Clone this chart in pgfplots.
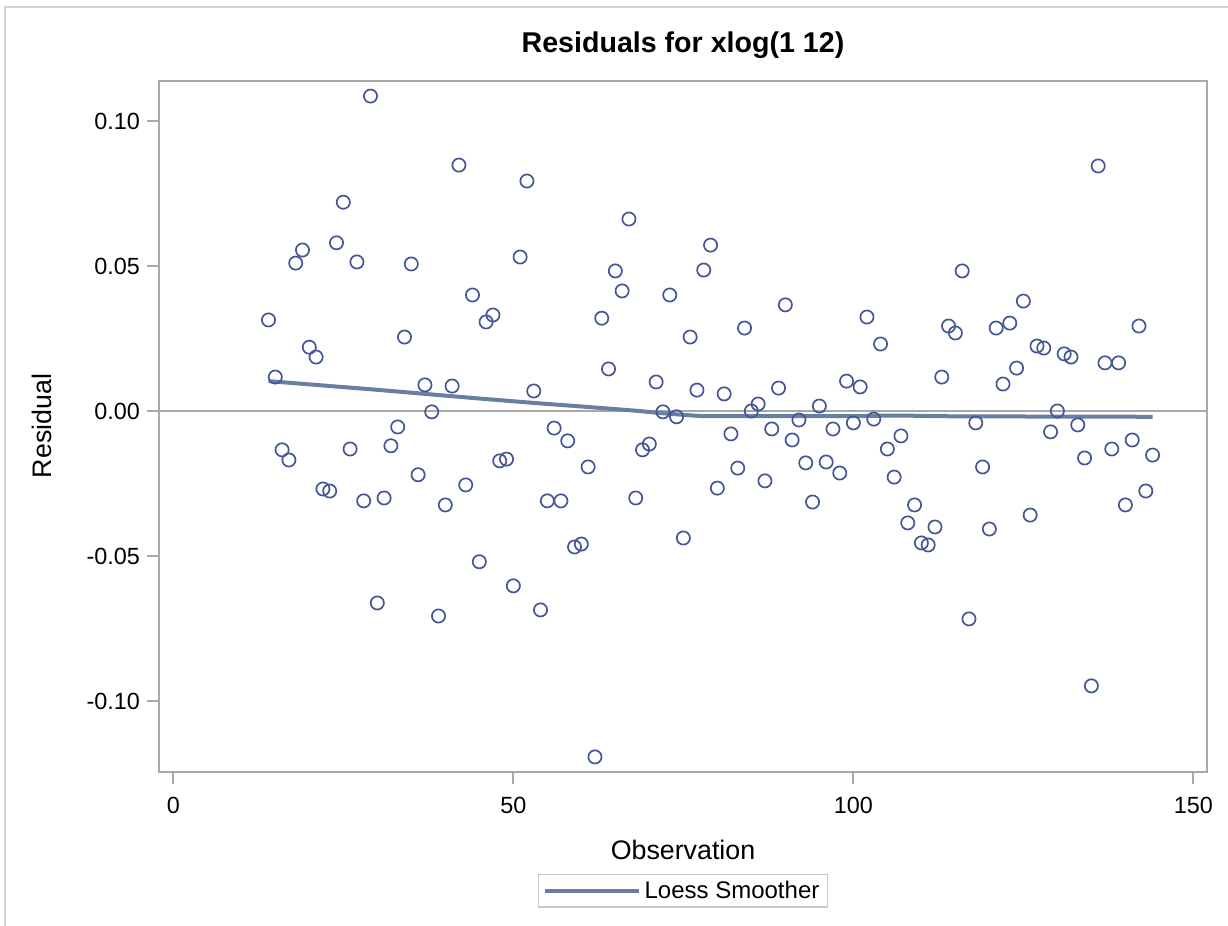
\documentclass[border=0pt]{standalone}
\usepackage{pgfplots}
\pgfplotsset{compat=1.18}
\usepackage{pgfplotstable}
\usepackage{fontspec}
\setmainfont{Liberation Sans}
\definecolor{markc}{HTML}{445694}
\definecolor{fitc}{HTML}{667FA2}
\definecolor{axc}{HTML}{A8A8A8}
\definecolor{brd}{HTML}{D3D3D3}
\definecolor{legb}{HTML}{C8C8C8}

\pgfplotstableread{
x y
14 0.0314
15 0.0117
16 -0.0134
17 -0.0169
18 0.0510
19 0.0555
20 0.0220
21 0.0186
22 -0.0269
23 -0.0276
24 0.0580
25 0.0720
26 -0.0131
27 0.0514
28 -0.0310
29 0.1086
30 -0.0662
31 -0.0300
32 -0.0120
33 -0.0055
34 0.0255
35 0.0507
36 -0.0220
37 0.0090
38 -0.0003
39 -0.0707
40 -0.0324
41 0.0086
42 0.0848
43 -0.0255
44 0.0400
45 -0.0520
46 0.0307
47 0.0331
48 -0.0172
49 -0.0166
50 -0.0603
51 0.0531
52 0.0793
53 0.0069
54 -0.0686
55 -0.0310
56 -0.0059
57 -0.0310
58 -0.0103
59 -0.0469
60 -0.0459
61 -0.0193
62 -0.1193
63 0.0320
64 0.0145
65 0.0483
66 0.0414
67 0.0662
68 -0.0300
69 -0.0134
70 -0.0114
71 0.0100
72 -0.0003
73 0.0400
74 -0.0020
75 -0.0438
76 0.0255
77 0.0072
78 0.0486
79 0.0572
80 -0.0266
81 0.0059
82 -0.0079
83 -0.0197
84 0.0286
85 0.0000
86 0.0024
87 -0.0241
88 -0.0062
89 0.0079
90 0.0366
91 -0.0100
92 -0.0031
93 -0.0179
94 -0.0314
95 0.0017
96 -0.0176
97 -0.0062
98 -0.0214
99 0.0103
100 -0.0041
101 0.0083
102 0.0324
103 -0.0028
104 0.0231
105 -0.0131
106 -0.0228
107 -0.0086
108 -0.0386
109 -0.0324
110 -0.0455
111 -0.0462
112 -0.0400
113 0.0117
114 0.0293
115 0.0269
116 0.0483
117 -0.0717
118 -0.0041
119 -0.0193
120 -0.0407
121 0.0286
122 0.0093
123 0.0303
124 0.0148
125 0.0379
126 -0.0359
127 0.0224
128 0.0217
129 -0.0072
130 0.0000
131 0.0197
132 0.0186
133 -0.0048
134 -0.0162
135 -0.0948
136 0.0845
137 0.0166
138 -0.0131
139 0.0166
140 -0.0324
141 -0.0100
142 0.0293
143 -0.0276
144 -0.0152
}\residtable

\pgfplotstableread{
x y
14 0.0103
30 0.0073
45 0.0043
54 0.0026
62 0.0012
68 0.0001
72 -0.0008
76 -0.0015
78 -0.0018
90 -0.0018
100 -0.0018
105 -0.0016
108 -0.0016
112 -0.0018
125 -0.0019
144 -0.0020
}\loesstable

\begin{document}
\begin{tikzpicture}
\path[use as bounding box] (0pt,0pt) rectangle (614pt,-463pt);
\draw[brd, line width=1pt] (2.35pt,-470pt) -- (2.35pt,-3.35pt) -- (620pt,-3.35pt);
\begin{axis}[
  at={(79.5pt,-385.85pt)}, anchor=south west,
  scale only axis, width=524pt, height=345.35pt,
  xmin=-2.1, xmax=152.0, ymin=-0.1244, ymax=0.1138,
  xtick={0,50,100,150}, ytick={-0.1,-0.05,0,0.05,0.1},
  xtick pos=bottom, ytick pos=left,
  tick align=outside, major tick length=6pt,
  axis line style={axc, line width=1pt},
  every tick/.style={axc, line width=1pt},
  tick label style={font=\fontsize{11.7}{13}\selectfont, black},
  /pgf/number format/assume math mode=true,
  yticklabel style={/pgf/number format/fixed, /pgf/number format/fixed zerofill, /pgf/number format/precision=2},
  xticklabel style={/pgf/number format/fixed, yshift=-3pt},
  scaled y ticks=false,
  legend style={at={(0.5,-0.1727)}, anchor=center, draw=legb, line width=0.7pt,
    font=\fontsize{12}{14}\selectfont, inner xsep=2pt, inner ysep=1pt,
    legend cell align=left},
  legend image code/.code={\draw[#1, line width=2pt] (0pt,0pt) -- (47pt,0pt);},
  clip=false,
]
\addplot[axc, line width=1pt, forget plot] coordinates {(-2.1,0) (152.0,0)};
\addplot[only marks, mark=o, mark size=3.3pt, mark options={markc, line width=0.85pt}, forget plot] table[x=x,y=y] {\residtable};
\addplot[fitc, line width=2pt] table[x=x,y=y] {\loesstable};
\addlegendentry{Loess Smoother}
\end{axis}
\node[anchor=base, font=\bfseries\fontsize{14.3}{16}\selectfont] at (341.5pt,-26.5pt) {Residuals for xlog(1 12)};
\node[anchor=base, font=\fontsize{13.4}{16}\selectfont] at (341.5pt,-429.7pt) {Observation};
\node[anchor=base, rotate=90, font=\fontsize{13.4}{16}\selectfont] at (25.8pt,-213pt) {Residual};
\end{tikzpicture}
\end{document}
